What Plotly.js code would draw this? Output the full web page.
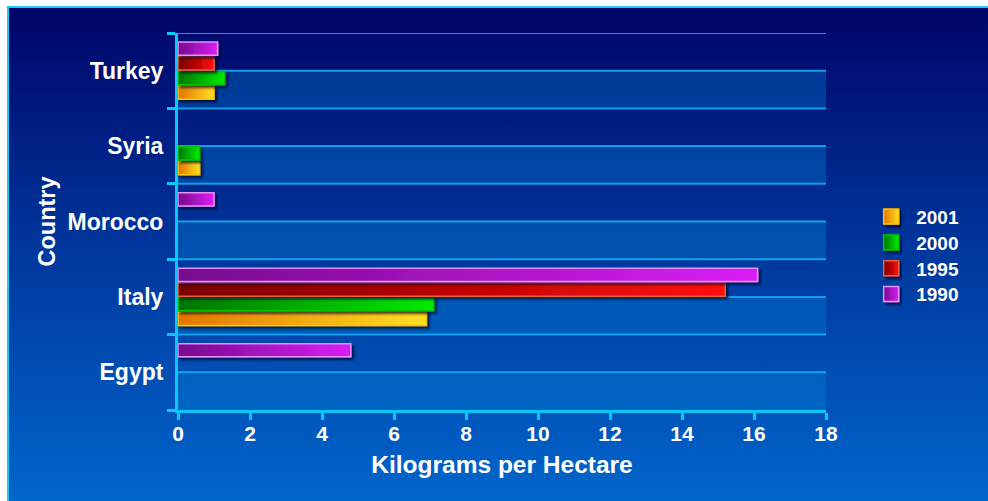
<!DOCTYPE html>
<html>
<head>
<meta charset="utf-8">
<script src="https://cdn.plot.ly/plotly-3.0.1.min.js"></script>
<style>
  html, body { margin: 0; padding: 0; background: #ffffff; width: 988px; height: 501px; overflow: hidden; }
  #frame {
    position: absolute; left: 7px; top: 6px; right: 0; bottom: 0;
    border-left: 2px solid #1ec8f4; border-top: 2px solid #1ec8f4;
    background: linear-gradient(to bottom, #000468 0%, #00389e 50%, #0066cc 100%);
  }
  #chart { position: absolute; left: 0; top: 0; width: 988px; height: 501px; }
</style>
</head>
<body>
<div id="frame"></div>
<div id="chart"></div>
<script>
// Fertilizer use by country, kilograms per hectare
const countries = ['Egypt', 'Italy', 'Morocco', 'Syria', 'Turkey'];
const years = ['2001', '2000', '1995', '1990'];
const v2001 = [null, 6.9, null, 0.6, 1.0];
const v2000 = [null, 7.1, null, 0.6, 1.3];
const v1995 = [null, 15.2, null, null, 1.0];
const v1990 = [4.8, 16.1, 1.0, null, 1.1];
const xTicks = [0, 2, 4, 6, 8, 10, 12, 14, 16, 18];

const seriesValues = { '2001': v2001, '2000': v2000, '1995': v1995, '1990': v1990 };

// bar look per year: gradient dark->bright, plus an edge colour
const palette = {
  '2001': { dark: '#e47400', bright: '#ffe024', edge: '#ffc400', mid: '#f4a810' },
  '2000': { dark: '#007400', bright: '#00ec00', edge: '#00c800', mid: '#00b000' },
  '1995': { dark: '#780000', bright: '#ff0a0a', edge: '#e8603a', mid: '#c00000' },
  '1990': { dark: '#760a8c', bright: '#da1ef6', edge: '#e690ff', mid: '#a814c0' }
};

const FONT = '"Liberation Sans", Arial, sans-serif';

const traces = years.map(yr => ({
  type: 'bar',
  orientation: 'h',
  name: yr,
  y: countries,
  x: seriesValues[yr],
  marker: { color: palette[yr].mid, line: { color: palette[yr].edge, width: 1.5 } },
  hoverinfo: 'skip'
}));

// horizontal rules at category boundaries and centres, lighter band on each lower half
const shapes = [];
countries.forEach((c, i) => {
  shapes.push({ type: 'rect', xref: 'paper', yref: 'y', x0: 0, x1: 1, y0: i - 0.5, y1: i,
    fillcolor: 'rgba(0,130,210,0.36)', line: { width: 0 }, layer: 'below' });
});
const rule = { color: 'rgba(24,176,246,0.85)', width: 2 };
countries.forEach((c, i) => {
  shapes.push({ type: 'line', xref: 'paper', yref: 'y', x0: 0, x1: 1, y0: i, y1: i, line: rule, layer: 'below' });
  shapes.push({ type: 'line', xref: 'paper', yref: 'y', x0: 0, x1: 1, y0: i + 0.5, y1: i + 0.5, line: rule, layer: 'below' });
});

const axisColor = '#0ac8f6';

const layout = {
  width: 988, height: 501,
  paper_bgcolor: 'rgba(0,0,0,0)',
  plot_bgcolor: 'rgba(0,0,0,0)',
  margin: { l: 178, r: 162, t: 33, b: 91, pad: 0 },
  barmode: 'group',
  bargap: 0.22,
  bargroupgap: 0.1,
  font: { family: FONT, color: '#ffffff', weight: 'bold' },
  showlegend: true,
  legend: {
    x: 1.062, xanchor: 'left', y: 0.563, yanchor: 'top',
    bgcolor: 'rgba(0,0,0,0)', borderwidth: 0,
    itemwidth: 40,
    traceorder: 'normal',
    font: { family: FONT, size: 19, color: '#ffffff', weight: 'bold' }
  },
  xaxis: {
    range: [0, 18], tickvals: xTicks, ticktext: xTicks.map(String),
    showgrid: false, zeroline: false,
    showline: true, linecolor: axisColor, linewidth: 3,
    ticks: 'outside', ticklen: 7, tickwidth: 3, tickcolor: axisColor,
    ticklabelstandoff: -4,
    tickfont: { family: FONT, size: 21, color: '#ffffff', weight: 'bold' },
    title: { text: 'Kilograms per Hectare', standoff: 12,
      font: { family: FONT, size: 24.5, color: '#ffffff', weight: 'bold' } },
    automargin: false, fixedrange: true
  },
  yaxis: {
    type: 'category', categoryorder: 'array', categoryarray: countries,
    range: [-0.5, countries.length - 0.5],
    showgrid: false, zeroline: false,
    showline: true, linecolor: axisColor, linewidth: 3,
    ticks: 'outside', tickson: 'boundaries', ticklen: 8, tickwidth: 3, tickcolor: axisColor,
    ticklabelstandoff: 7,
    tickfont: { family: FONT, size: 23, color: '#ffffff', weight: 'bold' },
    title: { text: 'Country', standoff: 6,
      font: { family: FONT, size: 23.5, color: '#ffffff', weight: 'bold' } },
    automargin: false, fixedrange: true
  },
  shapes: shapes
};

const NS = 'http://www.w3.org/2000/svg';
const LEGEND_STEP = 25.8;

function traceName(datum) {
  if (!datum) return null;
  if (datum.trace) return datum.trace.name;
  if (Array.isArray(datum) && datum[0]) return traceName(datum[0]);
  return null;
}

// give the bars a left-to-right gradient and a soft drop shadow
function dressBars(gd) {
  const svg = gd.querySelector('svg.main-svg');
  let defs = svg.querySelector('defs');
  if (!defs) { defs = document.createElementNS(NS, 'defs'); svg.insertBefore(defs, svg.firstChild); }

  years.forEach(yr => {
    const g = document.createElementNS(NS, 'linearGradient');
    g.setAttribute('id', 'fill-' + yr);
    g.setAttribute('x1', '0'); g.setAttribute('y1', '0');
    g.setAttribute('x2', '1'); g.setAttribute('y2', '0');
    [[0, palette[yr].dark], [1, palette[yr].bright]].forEach(([o, c]) => {
      const s = document.createElementNS(NS, 'stop');
      s.setAttribute('offset', o); s.setAttribute('stop-color', c);
      g.appendChild(s);
    });
    defs.appendChild(g);
  });

  const f = document.createElementNS(NS, 'filter');
  f.setAttribute('id', 'bar-shadow');
  f.setAttribute('x', '-10%'); f.setAttribute('y', '-20%');
  f.setAttribute('width', '130%'); f.setAttribute('height', '160%');
  const ds = document.createElementNS(NS, 'feDropShadow');
  ds.setAttribute('dx', '2.5'); ds.setAttribute('dy', '2.5');
  ds.setAttribute('stdDeviation', '1.2');
  ds.setAttribute('flood-color', '#000020'); ds.setAttribute('flood-opacity', '0.7');
  f.appendChild(ds);
  defs.appendChild(f);

  gd.querySelectorAll('g.trace.bars').forEach(g => {
    const name = traceName(g.__data__);
    if (!name) return;
    g.querySelectorAll('path').forEach(p => { p.style.fill = 'url(#fill-' + name + ')'; });
    g.setAttribute('filter', 'url(#bar-shadow)');
  });

  // legend keys: square gradient swatches, evenly stepped rows
  let firstY = null;
  gd.querySelectorAll('g.legend g.traces').forEach((g, i) => {
    const m = /translate\(\s*([-\d.]+)[ ,]+([-\d.]+)\s*\)/.exec(g.getAttribute('transform') || '');
    if (m) {
      const x = parseFloat(m[1]);
      if (firstY === null) firstY = parseFloat(m[2]);
      g.setAttribute('transform', 'translate(' + x + ',' + (firstY + i * LEGEND_STEP) + ')');
    }
    const name = traceName(g.__data__);
    if (!name) return;
    g.querySelectorAll('.legendpoints path').forEach(p => {
      p.setAttribute('d', 'M-7.5,-7.5H7.5V7.5H-7.5Z');
      p.style.fill = 'url(#fill-' + name + ')';
      p.style.stroke = palette[name].edge;
      p.style.strokeWidth = '1.5px';
    });
    const pts = g.querySelector('.legendpoints');
    if (pts) pts.setAttribute('filter', 'url(#bar-shadow)');
  });
}

Plotly.newPlot('chart', traces, layout, { displayModeBar: false, staticPlot: true })
  .then(dressBars);
</script>
</body>
</html>
